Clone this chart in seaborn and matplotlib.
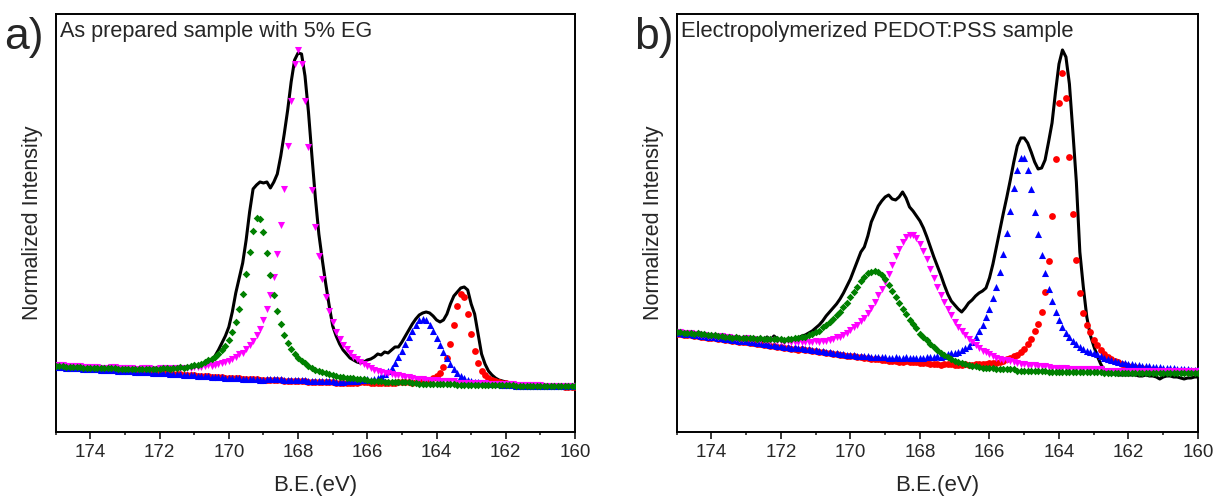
import numpy as np
import matplotlib.pyplot as plt
import seaborn as sns
from matplotlib.ticker import MultipleLocator

# binding energy grid, 175 -> 160 eV in 0.1 eV steps
energy = np.round(np.linspace(175, 160, 151), 1)

# ---------- panel a: as prepared sample with 5% EG ----------
black_a = [67, 67, 66, 66, 66, 65, 66, 65, 65, 65,
           65, 64, 65, 64, 64, 63, 64, 63, 63, 64,
           63, 63, 63, 62, 63, 62, 62, 63, 62, 62,
           62, 63, 62, 63, 63, 63, 64, 64, 64, 65,
           65, 66, 67, 68, 70, 72, 76, 82, 89, 96,
           105, 120, 139, 154, 169, 192, 220, 243, 247, 250,
           249, 250, 244, 250, 258, 276, 298, 322, 350, 372,
           379, 378, 356, 320, 276, 234, 198, 172, 148, 126,
           106, 96, 88, 82, 78, 74, 72, 70, 69, 70,
           72, 73, 75, 78, 77, 80, 79, 82, 85, 85,
           90, 96, 102, 108, 113, 117, 119, 120, 119, 116,
           112, 110, 112, 118, 128, 136, 140, 144, 145, 142,
           128, 118, 98, 78, 68, 61, 57, 54, 52, 51,
           50, 49, 49, 48, 48, 47, 47, 46, 45, 44,
           45, 45, 46, 45, 45, 44, 45, 46, 45, 45,
           45]
base_a = [65, 65, 65, 64, 64, 64, 64, 64, 63, 63,
          63, 63, 63, 62, 62, 62, 62, 62, 61, 61,
          61, 61, 61, 60, 60, 60, 60, 60, 59, 59,
          59, 59, 59, 58, 58, 58, 58, 57, 57, 57,
          57, 56, 56, 56, 56, 55, 55, 55, 55, 54,
          54, 54, 54, 54, 53, 53, 53, 53, 53, 52,
          52, 52, 52, 52, 52, 52, 51, 51, 51, 51,
          51, 51, 51, 50, 50, 50, 50, 50, 50, 50,
          50, 49, 49, 49, 49, 49, 49, 49, 49, 49,
          49, 48, 48, 48, 48, 48, 48, 48, 48, 48,
          48, 48, 48, 47, 47, 47, 47, 47, 47, 47,
          47, 47, 47, 47, 47, 47, 46, 46, 46, 46,
          46, 46, 46, 46, 46, 46, 46, 46, 46, 46,
          46, 46, 46, 45, 45, 45, 45, 45, 45, 45,
          45, 45, 45, 45, 45, 45, 45, 45, 45, 45,
          45]
pink_a = [2, 2, 2, 2, 2, 2, 2, 2, 2, 2,
          2, 2, 2, 2, 2, 2, 3, 3, 3, 3,
          3, 3, 3, 3, 3, 4, 4, 4, 4, 4,
          5, 5, 5, 5, 6, 6, 6, 7, 7, 7,
          8, 9, 9, 10, 11, 11, 12, 13, 14, 16,
          17, 19, 21, 24, 26, 30, 34, 38, 44, 51,
          60, 71, 85, 103, 126, 155, 192, 235, 280, 317,
          331, 317, 280, 235, 192, 155, 126, 103, 85, 71,
          60, 51, 44, 38, 34, 30, 26, 24, 21, 19,
          17, 16, 14, 13, 12, 11, 11, 10, 9, 9,
          8, 7, 7, 7, 6, 6, 6, 5, 5, 5,
          5, 4, 4, 4, 4, 4, 3, 3, 3, 3,
          3, 3, 3, 3, 3, 2, 2, 2, 2, 2,
          2, 2, 2, 2, 2, 2, 2, 2, 2, 2,
          2, 1, 1, 1, 1, 1, 1, 1, 1, 1,
          1]
green_a = [1, 1, 1, 1, 1, 1, 1, 1, 1, 1,
           1, 1, 1, 2, 2, 2, 2, 2, 2, 2,
           2, 2, 2, 3, 3, 3, 3, 3, 4, 4,
           4, 5, 5, 5, 6, 6, 7, 7, 8, 9,
           10, 11, 12, 14, 16, 18, 20, 23, 27, 32,
           38, 46, 56, 69, 85, 105, 127, 148, 161, 161,
           148, 127, 105, 85, 69, 56, 46, 38, 32, 27,
           23, 20, 18, 16, 14, 12, 11, 10, 9, 8,
           7, 7, 6, 6, 5, 5, 5, 4, 4, 4,
           3, 3, 3, 3, 3, 2, 2, 2, 2, 2,
           2, 2, 2, 2, 2, 1, 1, 1, 1, 1,
           1, 1, 1, 1, 1, 1, 1, 1, 1, 1,
           1, 1, 1, 1, 1, 1, 1, 1, 1, 1,
           1, 1, 1, 1, 1, 1, 1, 1, 1, 1,
           1, 1, 1, 1, 1, 1, 1, 1, 1, 1,
           1]
blue_a = [0, 0, 0, 0, 0, 0, 0, 0, 0, 0,
          0, 0, 0, 0, 0, 0, 0, 0, 0, 0,
          0, 0, 0, 0, 0, 0, 0, 0, 0, 0,
          0, 0, 0, 0, 0, 0, 0, 0, 0, 0,
          0, 0, 0, 0, 0, 0, 0, 0, 0, 0,
          0, 0, 0, 0, 0, 0, 0, 0, 0, 0,
          0, 1, 1, 1, 1, 1, 1, 1, 1, 1,
          1, 1, 1, 1, 1, 1, 1, 1, 1, 1,
          1, 1, 1, 1, 2, 2, 2, 2, 3, 3,
          4, 4, 5, 6, 8, 10, 13, 16, 21, 27,
          33, 40, 47, 54, 60, 65, 66, 65, 60, 54,
          47, 40, 33, 27, 21, 16, 13, 10, 8, 6,
          5, 4, 4, 3, 3, 2, 2, 2, 2, 1,
          1, 1, 1, 1, 1, 1, 1, 1, 1, 1,
          1, 1, 1, 1, 1, 1, 1, 1, 1, 1,
          1]
red_a = [0, 0, 0, 0, 0, 0, 0, 0, 0, 0,
         0, 0, 0, 0, 0, 0, 0, 0, 0, 0,
         0, 0, 0, 0, 0, 0, 0, 0, 0, 0,
         0, 0, 0, 0, 0, 0, 0, 0, 0, 0,
         0, 0, 0, 0, 0, 0, 0, 0, 0, 0,
         0, 0, 0, 0, 0, 0, 0, 0, 0, 0,
         0, 0, 0, 0, 0, 0, 0, 0, 0, 0,
         0, 0, 0, 0, 0, 0, 0, 0, 0, 0,
         0, 0, 0, 0, 0, 0, 0, 0, 1, 1,
         1, 1, 1, 1, 1, 1, 1, 1, 1, 2,
         2, 2, 2, 2, 3, 3, 4, 4, 5, 7,
         9, 12, 18, 27, 41, 60, 80, 92, 89, 72,
         52, 35, 23, 15, 11, 8, 6, 5, 4, 3,
         3, 2, 2, 2, 2, 1, 1, 1, 1, 1,
         1, 1, 1, 1, 1, 1, 1, 0, 0, 0,
         0]

# ---------- panel b: electropolymerized PEDOT:PSS ----------
black_b = [100, 100, 99, 99, 99, 98, 98, 98, 97, 97,
           97, 96, 96, 95, 95, 94, 94, 93, 93, 93,
           92, 92, 92, 94, 92, 91, 95, 92, 96, 93,
           92, 92, 93, 92, 93, 94, 96, 97, 99, 101,
           104, 107, 111, 116, 120, 124, 128, 133, 139, 146,
           153, 162, 171, 180, 185, 196, 210, 218, 226, 231,
           235, 237, 233, 232, 235, 240, 234, 225, 221, 216,
           211, 204, 195, 185, 175, 166, 157, 147, 138, 131,
           127, 123, 120, 124, 129, 132, 136, 139, 141, 144,
           154, 168, 185, 202, 219, 235, 252, 270, 286, 294,
           294, 289, 280, 270, 263, 264, 272, 290, 309, 340,
           368, 382, 375, 348, 300, 250, 180, 145, 115, 97,
           86, 76, 68, 62, 60, 58, 58, 57, 57, 57,
           57, 57, 57, 56, 56, 57, 56, 56, 55, 53,
           55, 56, 56, 55, 55, 54, 53, 54, 54, 55,
           55]
base_b = [98, 98, 97, 97, 97, 96, 96, 95, 95, 94,
          94, 94, 93, 93, 92, 92, 91, 91, 90, 90,
          90, 89, 89, 88, 88, 87, 87, 86, 86, 85,
          85, 84, 84, 83, 83, 82, 82, 81, 81, 80,
          80, 79, 79, 78, 78, 77, 77, 76, 76, 75,
          75, 75, 74, 74, 73, 73, 72, 72, 72, 71,
          71, 70, 70, 70, 69, 69, 69, 68, 68, 68,
          67, 67, 67, 66, 66, 66, 65, 65, 65, 65,
          64, 64, 64, 64, 63, 63, 63, 63, 62, 62,
          62, 62, 61, 61, 61, 61, 61, 61, 60, 60,
          60, 60, 60, 60, 60, 60, 60, 59, 59, 59,
          59, 59, 59, 59, 59, 59, 59, 59, 59, 59,
          59, 59, 59, 58, 58, 58, 58, 58, 58, 58,
          58, 58, 58, 58, 58, 58, 58, 58, 58, 58,
          58, 58, 58, 58, 58, 58, 58, 58, 58, 58,
          58]
pink_b = [2, 2, 2, 2, 2, 2, 2, 2, 2, 2,
          2, 2, 2, 3, 3, 3, 3, 3, 3, 3,
          4, 4, 4, 4, 4, 5, 5, 5, 6, 6,
          6, 6, 7, 7, 7, 8, 8, 9, 9, 10,
          11, 11, 12, 13, 14, 16, 18, 19, 21, 24,
          27, 30, 33, 37, 41, 46, 52, 58, 65, 72,
          79, 88, 97, 106, 114, 121, 126, 129, 129, 126,
          121, 114, 106, 97, 88, 79, 72, 65, 58, 52,
          46, 41, 37, 33, 30, 27, 24, 21, 19, 18,
          16, 14, 13, 12, 11, 11, 10, 9, 9, 8,
          8, 7, 7, 7, 6, 6, 6, 6, 5, 5,
          5, 5, 5, 4, 4, 4, 4, 4, 4, 4,
          4, 4, 4, 3, 3, 3, 3, 3, 3, 3,
          3, 3, 3, 3, 3, 3, 3, 3, 3, 3,
          3, 3, 3, 3, 3, 3, 3, 3, 3, 3,
          3]
green_b = [2, 2, 2, 2, 2, 2, 3, 3, 3, 3,
           3, 3, 3, 3, 3, 3, 3, 4, 4, 4,
           4, 5, 5, 5, 6, 6, 6, 7, 7, 8,
           8, 8, 9, 10, 11, 12, 13, 14, 16, 18,
           20, 22, 26, 29, 32, 36, 40, 44, 49, 54,
           60, 65, 71, 77, 82, 86, 88, 89, 88, 86,
           82, 77, 71, 65, 60, 54, 49, 44, 40, 36,
           31, 28, 25, 22, 19, 16, 14, 12, 10, 8,
           7, 6, 5, 4, 4, 3, 3, 2, 2, 2,
           2, 2, 2, 2, 2, 2, 2, 2, 1, 1,
           1, 1, 1, 1, 1, 1, 1, 1, 1, 1,
           1, 1, 1, 1, 1, 1, 1, 1, 1, 1,
           1, 1, 1, 1, 1, 1, 1, 1, 1, 1,
           1, 1, 1, 1, 1, 1, 1, 1, 1, 1,
           1, 1, 1, 1, 1, 1, 1, 1, 1, 1,
           1]
blue_b = [1, 1, 1, 1, 1, 1, 1, 1, 1, 1,
          1, 1, 1, 1, 1, 1, 1, 1, 1, 1,
          1, 1, 1, 1, 1, 1, 1, 1, 1, 1,
          1, 1, 1, 1, 2, 2, 2, 2, 2, 2,
          2, 2, 2, 2, 2, 2, 2, 2, 2, 2,
          2, 2, 2, 2, 3, 3, 3, 3, 3, 4,
          4, 4, 4, 5, 5, 5, 6, 6, 6, 6,
          7, 7, 8, 9, 9, 10, 10, 11, 13, 14,
          15, 16, 18, 20, 23, 27, 32, 38, 45, 53,
          61, 72, 84, 99, 117, 138, 160, 183, 202, 214,
          214, 202, 183, 160, 138, 117, 99, 84, 72, 61,
          53, 46, 40, 36, 32, 29, 26, 24, 22, 21,
          20, 19, 17, 16, 15, 14, 13, 12, 11, 11,
          10, 10, 9, 9, 8, 8, 8, 7, 7, 7,
          6, 6, 6, 6, 5, 5, 5, 5, 4, 4,
          4]
red_b = [0, 0, 0, 0, 0, 0, 0, 0, 0, 0,
         0, 0, 0, 0, 0, 0, 0, 0, 0, 0,
         0, 0, 0, 0, 0, 0, 0, 0, 0, 0,
         0, 0, 0, 0, 0, 0, 1, 1, 1, 1,
         1, 1, 1, 1, 1, 1, 1, 1, 1, 1,
         1, 1, 1, 1, 1, 1, 1, 1, 1, 1,
         1, 1, 1, 1, 1, 1, 2, 2, 2, 2,
         2, 2, 2, 2, 2, 2, 2, 3, 3, 3,
         3, 3, 3, 4, 4, 4, 5, 5, 6, 6,
         7, 7, 8, 9, 10, 12, 13, 15, 17, 20,
         23, 28, 33, 41, 48, 60, 80, 112, 157, 214,
         270, 300, 275, 216, 159, 113, 80, 60, 48, 41,
         33, 28, 23, 20, 17, 15, 13, 12, 10, 9,
         8, 7, 7, 6, 6, 5, 5, 4, 4, 4,
         3, 3, 3, 3, 3, 3, 2, 2, 2, 2,
         2]

titles = ['As prepared sample with 5% EG', 'Electropolymerized PEDOT:PSS sample']
letters = ['a)', 'b)']
xticks = [174, 172, 170, 168, 166, 164, 162, 160]

for name, arr in [('black_a', black_a), ('base_a', base_a), ('pink_a', pink_a),
                  ('green_a', green_a), ('blue_a', blue_a), ('red_a', red_a),
                  ('black_b', black_b), ('base_b', base_b), ('pink_b', pink_b),
                  ('green_b', green_b), ('blue_b', blue_b), ('red_b', red_b)]:
    if len(arr) != len(energy):
        raise ValueError(f'{name} has {len(arr)} values')

sns.set_style('white')
plt.rcParams['font.family'] = ['Liberation Sans', 'DejaVu Sans']

fig = plt.figure(figsize=(12.17, 4.99), dpi=100)
ax1 = fig.add_axes([0.0458, 0.1343, 0.4267, 0.8377])
ax2 = fig.add_axes([0.5560, 0.1343, 0.4284, 0.8377])


def draw_panel(ax, black, base, red, blue, pink, green, title, title_size):
    base = np.array(base)
    sns.lineplot(x=energy, y=black, color='black', lw=2.2, ax=ax, zorder=2)
    sns.scatterplot(x=energy, y=base + np.array(red), marker='o', color='#ff0000',
                    s=24, linewidth=0, ax=ax, zorder=3)
    sns.scatterplot(x=energy, y=base + np.array(blue), marker='^', color='#0000ff',
                    s=26, linewidth=0, ax=ax, zorder=3)
    sns.scatterplot(x=energy, y=base + np.array(pink), marker='v', color='#ff00ff',
                    s=26, linewidth=0, ax=ax, zorder=3)
    sns.scatterplot(x=energy, y=base + np.array(green), marker='D', color='#008000',
                    s=15, linewidth=0, ax=ax, zorder=3)

    ax.set_xlim(175, 160)
    ax.set_ylim(0, 418)
    ax.set_xticks(xticks)
    ax.xaxis.set_minor_locator(MultipleLocator(1))
    ax.set_yticks([])
    ax.tick_params(axis='x', which='major', direction='out', length=5, width=1.3,
                   labelsize=13.5, pad=3.5, bottom=True)
    ax.tick_params(axis='x', which='minor', direction='out', length=2.5, width=1.2,
                   bottom=True)
    for sp in ax.spines.values():
        sp.set_color('black')
        sp.set_linewidth(1.4)

    ax.set_xlabel('B.E.(eV)', fontsize=16, va='center')
    ax.xaxis.set_label_coords(0.5, -0.127)
    ax.set_ylabel('Normalized Intensity', fontsize=15.5, va='center')
    ax.yaxis.set_label_coords(-0.044, 0.5)
    ax.text(0.008, 0.945, title, transform=ax.transAxes, fontsize=title_size,
            va='baseline')


draw_panel(ax1, black_a, base_a, red_a, blue_a, pink_a, green_a, titles[0], 15.6)
draw_panel(ax2, black_b, base_b, red_b, blue_b, pink_b, green_b, titles[1], 15.8)

fig.text(0.003, 0.925, letters[0], fontsize=32, va='center', ha='left')
fig.text(0.521, 0.925, letters[1], fontsize=32, va='center', ha='left')

fig.savefig('out.png', dpi=100)
